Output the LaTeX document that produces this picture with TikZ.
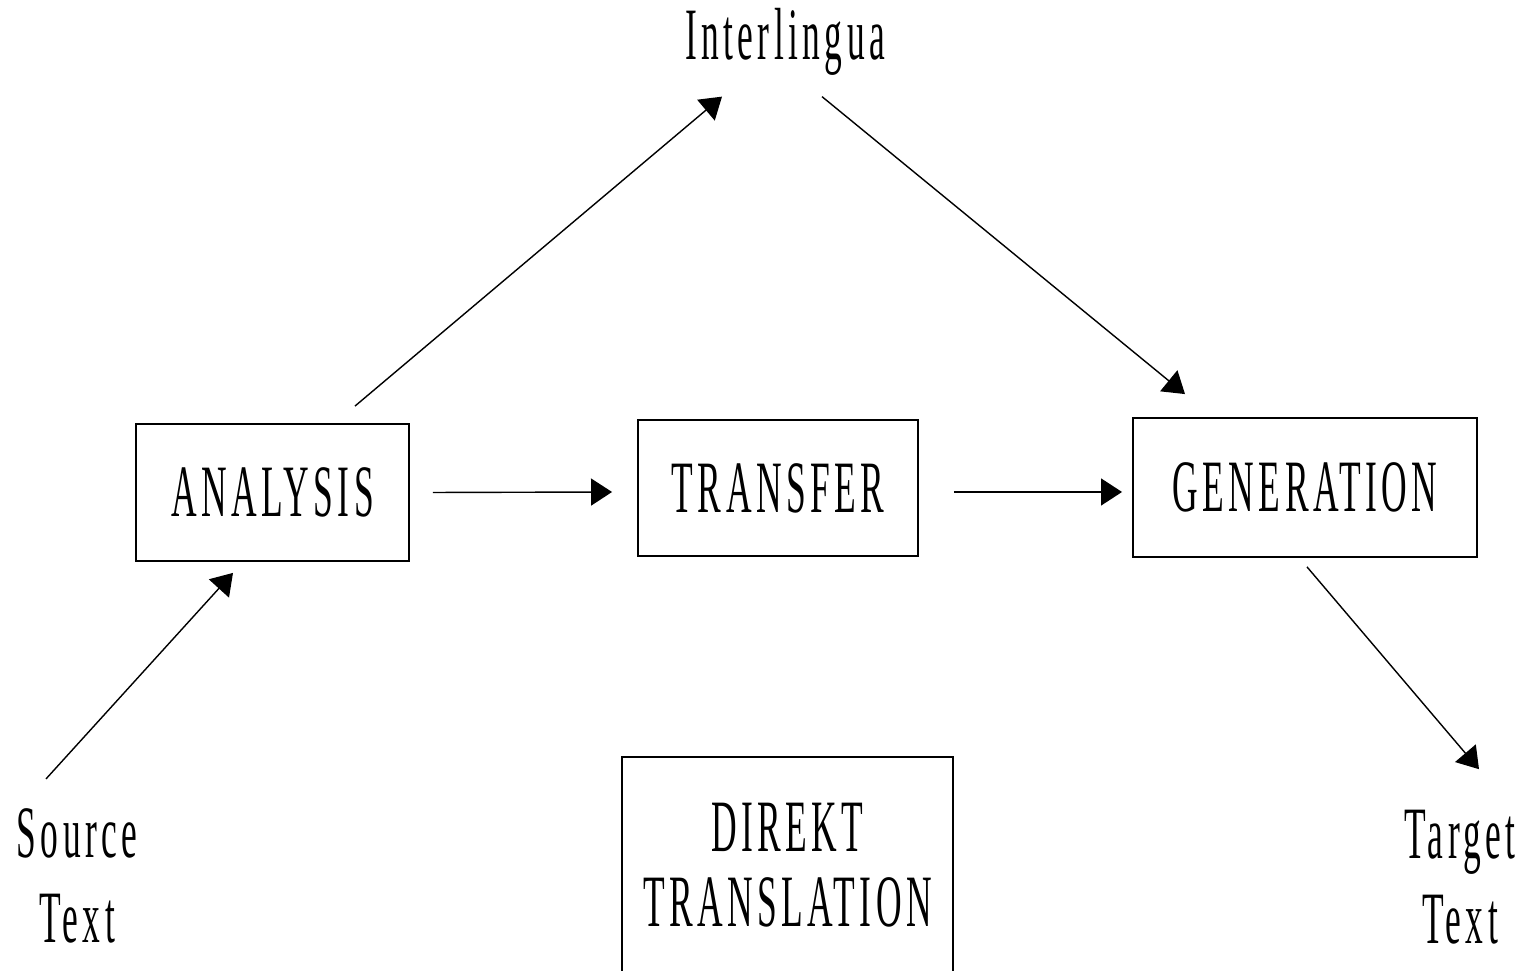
\documentclass[tikz,border=0pt]{standalone}
\usepackage{fontspec}
\newfontfamily\narrowserif[FakeStretch=0.48,LetterSpace=6]{Liberation Serif}
\usetikzlibrary{arrows.meta}

\begin{document}
\begin{tikzpicture}[x=0.01cm,y=-0.01cm,
    box/.style={draw,line width=0.5pt,inner sep=0pt},
    lbl/.style={inner sep=0pt,align=center},
    arr/.style={line width=0.4pt,-{Triangle[length=0.21cm,width=0.27cm]}},
    font={\narrowserif\fontsize{21}{24.2}\selectfont}]

  % Page
  \useasboundingbox (0,0) rectangle (1521,971);
  \clip (0,0) rectangle (1521,971);

  % Labels
  \node[lbl,anchor=base] (inter) at (785,60) {Interlingua};
  \node[lbl] (source) at (77,876) {Source\\Text};
  \node[lbl] (target) at (1460,877) {Target\\Text};

  % Boxes
  \node[box,minimum width=2.73cm,minimum height=1.37cm] (analysis) at (272.5,492.5) {ANALYSIS};
  \node[box,minimum width=2.80cm,minimum height=1.36cm] (transfer) at (778,488) {TRANSFER};
  \node[box,minimum width=3.44cm,minimum height=1.39cm] (generation) at (1305,487.5) {GENERATION};
  \node[box,align=center,anchor=north,minimum width=3.31cm,inner ysep=0.46cm,text depth=1cm,
        font={\narrowserif\fontsize{21}{21.3}\selectfont}] (direct) at (787.5,756) {DIREKT\\TRANSLATION};

  % Arrows
  \draw[arr] ([shift={(-31,-29)}]source.north) -- ([shift={(-39.5,11)}]analysis.south);
  \draw[arr] ([shift={(82.5,-17)}]analysis.north) -- ([shift={(-63,20)}]inter.south);
  \draw[arr] ([shift={(37,20)}]inter.south) -- ([shift={(-120,-23)}]generation.north);
  \draw[arr] ([shift={(23,0)}]analysis.east) -- ([shift={(-25,4)}]transfer.west);
  \draw[arr] ([shift={(35,4)}]transfer.east) -- ([shift={(-10,4.5)}]generation.west);
  \draw[arr] ([shift={(2,9)}]generation.south) -- ([shift={(19,-40)}]target.north);

\end{tikzpicture}
\end{document}
